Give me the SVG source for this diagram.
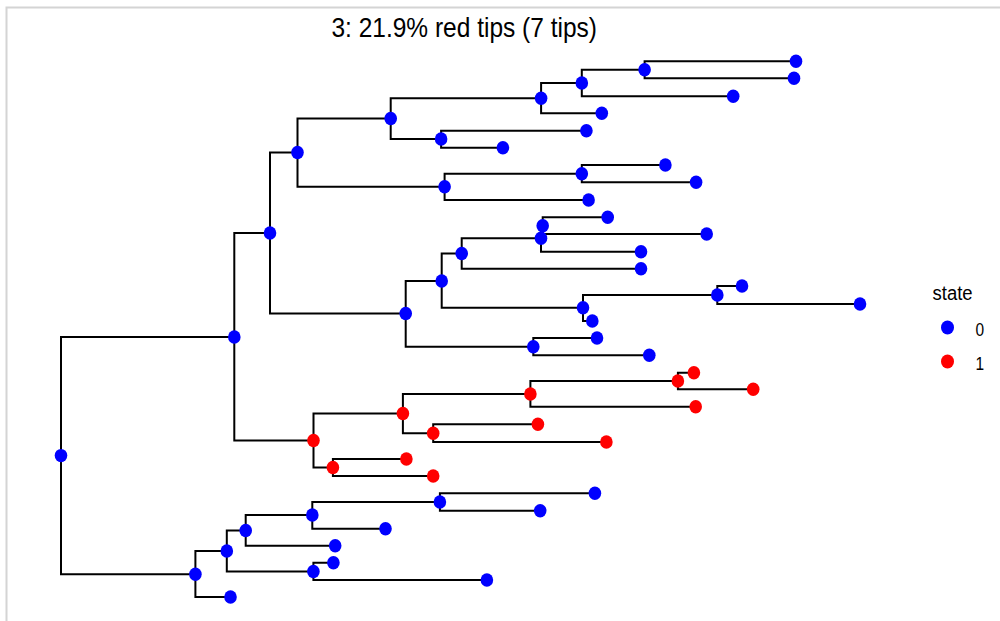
<svg xmlns="http://www.w3.org/2000/svg" width="1000" height="621" viewBox="0 0 1000 621">
<style>
.frame{fill:none;stroke:#d4d4d4;stroke-width:2}
.br{fill:none;stroke:#000;stroke-width:2;stroke-linejoin:miter;stroke-linecap:butt}
.b{fill:#0000ff}
.r{fill:#ff0000}
.t{font-family:"Liberation Sans",Arial,sans-serif;fill:#000}
</style>
<rect width="1000" height="621" fill="#fff"/>
<path class="frame" d="M6.5,621 V7.5 H1000"/>
<text class="t" transform="translate(464.2,36.7) scale(1,1.1)" text-anchor="middle" font-size="24.5">3: 21.9% red tips (7 tips)</text>
<g id="connectors">
<path class="br" d="M234.3,337 H61 V574.3 H195.4"/>
<path class="br" d="M270,233 H234.3 V440.5 H313.5"/>
<path class="br" d="M297.5,152.5 H270 V313.5 H405.7"/>
<path class="br" d="M390.7,118.5 H297.5 V186.7 H444.6"/>
<path class="br" d="M541.1,98.3 H390.7 V139 H441.1"/>
<path class="br" d="M581.8,83 H541.1 V113.3 H601.8"/>
<path class="br" d="M644.6,69.7 H581.8 V96.3 H733.2"/>
<path class="br" d="M796,61.3 H644.6 V78.3 H794"/>
<path class="br" d="M586.4,130.7 H441.1 V147.7 H502.9"/>
<path class="br" d="M581.8,173.7 H444.6 V200 H588.6"/>
<path class="br" d="M665.4,165 H581.8 V182.3 H696.1"/>
<path class="br" d="M441.7,281 H405.7 V346.7 H533.3"/>
<path class="br" d="M461.7,253.5 H441.7 V307.7 H583"/>
<path class="br" d="M541,238.3 H461.7 V268.7 H641"/>
<path class="br" d="M542.7,225.7 H541 V251.7 H641"/>
<path class="br" d="M607.7,217.3 H542.7 V234 H706.7"/>
<path class="br" d="M717.3,295 H583 V321 H592.3"/>
<path class="br" d="M742,286 H717.3 V304 H860"/>
<path class="br" d="M597,338 H533.3 V355.3 H649.3"/>
<path class="br" d="M402.9,413.5 H313.5 V467.5 H332.9"/>
<path class="br" d="M530.4,394 H402.9 V433.3 H433.2"/>
<path class="br" d="M677.9,381 H530.4 V406.7 H695.7"/>
<path class="br" d="M693.9,372.7 H677.9 V389.3 H753.2"/>
<path class="br" d="M537.9,424.3 H433.2 V442 H606.4"/>
<path class="br" d="M406.4,459 H332.9 V476 H433.2"/>
<path class="br" d="M226.8,551 H195.4 V597 H230.5"/>
<path class="br" d="M245.7,530.5 H226.8 V571.5 H313.4"/>
<path class="br" d="M312.3,515 H245.7 V545.7 H335.2"/>
<path class="br" d="M439.9,502 H312.3 V528.7 H385.5"/>
<path class="br" d="M594.9,493.3 H439.9 V510.7 H540.2"/>
<path class="br" d="M333.4,562.7 H313.4 V580 H486.9"/>
</g>
<g id="n_root"><ellipse class="b" cx="61" cy="455.6" rx="6.3" ry="6.7"/></g>
<g id="n_B"><ellipse class="b" cx="234.3" cy="337" rx="6.3" ry="6.7"/></g>
<g id="n_C"><ellipse class="b" cx="270" cy="233" rx="6.3" ry="6.7"/></g>
<g id="n_A"><ellipse class="b" cx="297.5" cy="152.5" rx="6.3" ry="6.7"/></g>
<g id="n_X"><ellipse class="b" cx="390.7" cy="118.5" rx="6.3" ry="6.7"/></g>
<g id="n_Z"><ellipse class="b" cx="541.1" cy="98.3" rx="6.3" ry="6.7"/></g>
<g id="n_AB"><ellipse class="b" cx="581.8" cy="83" rx="6.3" ry="6.7"/></g>
<g id="n_AC"><ellipse class="b" cx="644.6" cy="69.7" rx="6.3" ry="6.7"/></g>
<g id="t1"><ellipse class="b" cx="796" cy="61.3" rx="6.3" ry="6.7"/></g>
<g id="t2"><ellipse class="b" cx="794" cy="78.3" rx="6.3" ry="6.7"/></g>
<g id="t3"><ellipse class="b" cx="733.2" cy="96.3" rx="6.3" ry="6.7"/></g>
<g id="t4"><ellipse class="b" cx="601.8" cy="113.3" rx="6.3" ry="6.7"/></g>
<g id="n_AA"><ellipse class="b" cx="441.1" cy="139" rx="6.3" ry="6.7"/></g>
<g id="t5"><ellipse class="b" cx="586.4" cy="130.7" rx="6.3" ry="6.7"/></g>
<g id="t6"><ellipse class="b" cx="502.9" cy="147.7" rx="6.3" ry="6.7"/></g>
<g id="n_Y"><ellipse class="b" cx="444.6" cy="186.7" rx="6.3" ry="6.7"/></g>
<g id="n_AD"><ellipse class="b" cx="581.8" cy="173.7" rx="6.3" ry="6.7"/></g>
<g id="t7"><ellipse class="b" cx="665.4" cy="165" rx="6.3" ry="6.7"/></g>
<g id="t8"><ellipse class="b" cx="696.1" cy="182.3" rx="6.3" ry="6.7"/></g>
<g id="t9"><ellipse class="b" cx="588.6" cy="200" rx="6.3" ry="6.7"/></g>
<g id="n_P"><ellipse class="b" cx="405.7" cy="313.5" rx="6.3" ry="6.7"/></g>
<g id="n_Q"><ellipse class="b" cx="441.7" cy="281" rx="6.3" ry="6.7"/></g>
<g id="n_S"><ellipse class="b" cx="461.7" cy="253.5" rx="6.3" ry="6.7"/></g>
<g id="n_U"><ellipse class="b" cx="541" cy="238.3" rx="6.3" ry="6.7"/></g>
<g id="n_V"><ellipse class="b" cx="542.7" cy="225.7" rx="6.3" ry="6.7"/></g>
<g id="t10"><ellipse class="b" cx="607.7" cy="217.3" rx="6.3" ry="6.7"/></g>
<g id="t11"><ellipse class="b" cx="706.7" cy="234" rx="6.3" ry="6.7"/></g>
<g id="t12"><ellipse class="b" cx="641" cy="251.7" rx="6.3" ry="6.7"/></g>
<g id="t13"><ellipse class="b" cx="641" cy="268.7" rx="6.3" ry="6.7"/></g>
<g id="n_T"><ellipse class="b" cx="583" cy="307.7" rx="6.3" ry="6.7"/></g>
<g id="n_W"><ellipse class="b" cx="717.3" cy="295" rx="6.3" ry="6.7"/></g>
<g id="t14"><ellipse class="b" cx="742" cy="286" rx="6.3" ry="6.7"/></g>
<g id="t15"><ellipse class="b" cx="860" cy="304" rx="6.3" ry="6.7"/></g>
<g id="t16"><ellipse class="b" cx="592.3" cy="321" rx="6.3" ry="6.7"/></g>
<g id="n_R"><ellipse class="b" cx="533.3" cy="346.7" rx="6.3" ry="6.7"/></g>
<g id="t17"><ellipse class="b" cx="597" cy="338" rx="6.3" ry="6.7"/></g>
<g id="t18"><ellipse class="b" cx="649.3" cy="355.3" rx="6.3" ry="6.7"/></g>
<g id="n_D"><ellipse class="r" cx="313.5" cy="440.5" rx="6.3" ry="6.7"/></g>
<g id="n_K"><ellipse class="r" cx="402.9" cy="413.5" rx="6.3" ry="6.7"/></g>
<g id="n_M"><ellipse class="r" cx="530.4" cy="394" rx="6.3" ry="6.7"/></g>
<g id="n_O"><ellipse class="r" cx="677.9" cy="381" rx="6.3" ry="6.7"/></g>
<g id="t19"><ellipse class="r" cx="693.9" cy="372.7" rx="6.3" ry="6.7"/></g>
<g id="t20"><ellipse class="r" cx="753.2" cy="389.3" rx="6.3" ry="6.7"/></g>
<g id="t21"><ellipse class="r" cx="695.7" cy="406.7" rx="6.3" ry="6.7"/></g>
<g id="n_N"><ellipse class="r" cx="433.2" cy="433.3" rx="6.3" ry="6.7"/></g>
<g id="t22"><ellipse class="r" cx="537.9" cy="424.3" rx="6.3" ry="6.7"/></g>
<g id="t23"><ellipse class="r" cx="606.4" cy="442" rx="6.3" ry="6.7"/></g>
<g id="n_L"><ellipse class="r" cx="332.9" cy="467.5" rx="6.3" ry="6.7"/></g>
<g id="t24"><ellipse class="r" cx="406.4" cy="459" rx="6.3" ry="6.7"/></g>
<g id="t25"><ellipse class="r" cx="433.2" cy="476" rx="6.3" ry="6.7"/></g>
<g id="n_E"><ellipse class="b" cx="195.4" cy="574.3" rx="6.3" ry="6.7"/></g>
<g id="n_F"><ellipse class="b" cx="226.8" cy="551" rx="6.3" ry="6.7"/></g>
<g id="n_G"><ellipse class="b" cx="245.7" cy="530.5" rx="6.3" ry="6.7"/></g>
<g id="n_H"><ellipse class="b" cx="312.3" cy="515" rx="6.3" ry="6.7"/></g>
<g id="n_I"><ellipse class="b" cx="439.9" cy="502" rx="6.3" ry="6.7"/></g>
<g id="t26"><ellipse class="b" cx="594.9" cy="493.3" rx="6.3" ry="6.7"/></g>
<g id="t27"><ellipse class="b" cx="540.2" cy="510.7" rx="6.3" ry="6.7"/></g>
<g id="t28"><ellipse class="b" cx="385.5" cy="528.7" rx="6.3" ry="6.7"/></g>
<g id="t29"><ellipse class="b" cx="335.2" cy="545.7" rx="6.3" ry="6.7"/></g>
<g id="n_J"><ellipse class="b" cx="313.4" cy="571.5" rx="6.3" ry="6.7"/></g>
<g id="t30"><ellipse class="b" cx="333.4" cy="562.7" rx="6.3" ry="6.7"/></g>
<g id="t31"><ellipse class="b" cx="486.9" cy="580" rx="6.3" ry="6.7"/></g>
<g id="t32"><ellipse class="b" cx="230.5" cy="597" rx="6.3" ry="6.7"/></g>
<g id="legend">
<text class="t" transform="translate(932.5,300) scale(1,1.1)" font-size="18.5">state</text>
<ellipse class="b" cx="947.5" cy="327.5" rx="6.5" ry="7"/>
<ellipse class="r" cx="947.5" cy="361.5" rx="6.5" ry="7"/>
<text class="t" transform="translate(975.5,336) scale(1,1.15)" font-size="15.5">0</text>
<text class="t" transform="translate(975.5,369.5) scale(1,1.15)" font-size="15.5">1</text>
</g>
</svg>
